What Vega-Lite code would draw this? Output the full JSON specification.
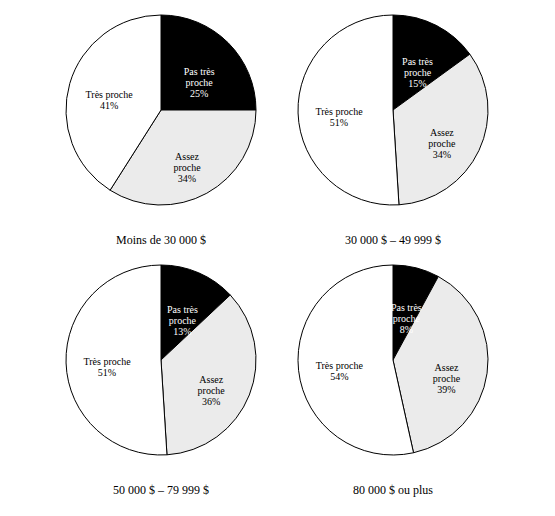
{
  "$schema": "https://vega.github.io/schema/vega-lite/v6.json",
  "padding": {"left": 64, "top": 13, "right": 5, "bottom": 5},
  "background": "white",
  "data": {
    "values": [
      {"revenu": "Moins de 30 000 $", "groupe": "Pas très proche", "ordre": 1, "pct": 25},
      {"revenu": "Moins de 30 000 $", "groupe": "Assez proche", "ordre": 2, "pct": 34},
      {"revenu": "Moins de 30 000 $", "groupe": "Très proche", "ordre": 3, "pct": 41},
      {"revenu": "30 000 $ – 49 999 $", "groupe": "Pas très proche", "ordre": 1, "pct": 15},
      {"revenu": "30 000 $ – 49 999 $", "groupe": "Assez proche", "ordre": 2, "pct": 34},
      {"revenu": "30 000 $ – 49 999 $", "groupe": "Très proche", "ordre": 3, "pct": 51},
      {"revenu": "50 000 $ – 79 999 $", "groupe": "Pas très proche", "ordre": 1, "pct": 13},
      {"revenu": "50 000 $ – 79 999 $", "groupe": "Assez proche", "ordre": 2, "pct": 36},
      {"revenu": "50 000 $ – 79 999 $", "groupe": "Très proche", "ordre": 3, "pct": 51},
      {"revenu": "80 000 $ ou plus", "groupe": "Pas très proche", "ordre": 1, "pct": 8},
      {"revenu": "80 000 $ ou plus", "groupe": "Assez proche", "ordre": 2, "pct": 39},
      {"revenu": "80 000 $ ou plus", "groupe": "Très proche", "ordre": 3, "pct": 54}
    ]
  },
  "facet": {
    "field": "revenu",
    "type": "nominal",
    "sort": ["Moins de 30 000 $", "30 000 $ – 49 999 $", "50 000 $ – 79 999 $", "80 000 $ ou plus"],
    "header": {
      "title": null,
      "labelOrient": "bottom",
      "labelFont": "Liberation Serif",
      "labelFontSize": 12,
      "labelFontWeight": "normal",
      "labelColor": "black",
      "labelPadding": 28
    }
  },
  "columns": 2,
  "spacing": {"column": 38, "row": 17},
  "spec": {
    "width": 190,
    "height": 190,
    "encoding": {
      "theta": {"field": "pct", "type": "quantitative", "stack": true},
      "order": {"field": "ordre", "type": "quantitative", "sort": "ascending"}
    },
    "layer": [
      {
        "mark": {"type": "arc", "stroke": "black", "strokeWidth": 1, "outerRadius": 95},
        "encoding": {
          "color": {
            "field": "groupe",
            "type": "nominal",
            "scale": {"domain": ["Pas très proche", "Assez proche", "Très proche"], "range": ["black", "#ebebeb", "white"]},
            "legend": null
          }
        }
      },
      {
        "transform": [
          {"calculate": "datum.groupe === 'Très proche' ? 'Très proche\\n' + datum.pct + '%' : replace(datum.groupe, ' proche', '\\nproche') + '\\n' + datum.pct + '%'", "as": "etiquette"}
        ],
        "mark": {"type": "text", "radius": 54, "font": "Liberation Serif", "fontSize": 10, "lineBreak": "\n", "lineHeight": 11},
        "encoding": {
          "text": {"field": "etiquette"},
          "color": {"condition": {"test": "datum.groupe === 'Pas très proche'", "value": "white"}, "value": "black"}
        }
      }
    ]
  },
  "config": {
    "view": {"stroke": null}
  }
}
